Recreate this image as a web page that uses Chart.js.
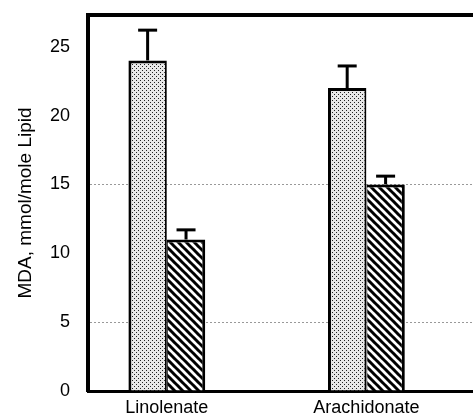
<!DOCTYPE html>
<html>
<head>
<meta charset="utf-8">
<script src="https://cdn.jsdelivr.net/npm/chart.js@4/dist/chart.umd.min.js"></script>
<style>
html,body{margin:0;padding:0;background:#fff;overflow:hidden;}
#wrap{width:546px;height:420px;position:relative;}
</style>
</head>
<body>
<div id="wrap"><canvas id="c"></canvas></div>
<script>
const categories = ['Linolenate', 'Arachidonate'];
const categoryX = [1, 2];
const series1 = [24.0, 22.0];
const series1Err = [2.2, 1.6];
const series2 = [11.0, 15.0];
const series2Err = [0.7, 0.6];
const yTicks = [0, 5, 10, 15, 20, 25];

function stipple() {
  const c = document.createElement('canvas');
  c.width = 4; c.height = 4;
  const g = c.getContext('2d');
  g.fillStyle = '#e8e8e8'; g.fillRect(0, 0, 4, 4);
  g.fillStyle = '#222';
  g.fillRect(0, 0, 1, 1);
  g.fillRect(2, 2, 1, 1);
  return g.createPattern(c, 'repeat');
}
function hatch() {
  const s = 8;
  const c = document.createElement('canvas');
  c.width = s; c.height = s;
  const g = c.getContext('2d');
  g.fillStyle = '#fff'; g.fillRect(0, 0, s, s);
  g.strokeStyle = '#000'; g.lineWidth = 3;
  for (let k = -1; k <= 1; k++) {
    g.beginPath();
    g.moveTo(k * s - 1, -1);
    g.lineTo(k * s + s + 1, s + 1);
    g.stroke();
  }
  return g.createPattern(c, 'repeat');
}

const errs = [series1Err, series2Err];
const errorBars = {
  id: 'errorBars',
  afterDatasetsDraw(chart) {
    const ctx = chart.ctx;
    const ys = chart.scales.y;
    ctx.save();
    ctx.strokeStyle = '#000';
    ctx.lineWidth = 3;
    chart.data.datasets.forEach((ds, di) => {
      const meta = chart.getDatasetMeta(di);
      meta.data.forEach((bar, i) => {
        const v = ds.data[i].y;
        const top = ys.getPixelForValue(v + errs[di][i]);
        const base = ys.getPixelForValue(v);
        ctx.beginPath();
        ctx.moveTo(bar.x, base);
        ctx.lineTo(bar.x, top);
        ctx.stroke();
        ctx.beginPath();
        ctx.moveTo(bar.x - 9.5, top);
        ctx.lineTo(bar.x + 9.5, top);
        ctx.stroke();
      });
    });
    ctx.restore();
  }
};
const topBorder = {
  id: 'topBorder',
  afterDraw(chart) {
    const a = chart.chartArea;
    const ctx = chart.ctx;
    ctx.save();
    ctx.strokeStyle = '#000';
    ctx.lineWidth = 4;
    ctx.beginPath();
    ctx.moveTo(a.left - 2, a.top);
    ctx.lineTo(a.right, a.top);
    ctx.stroke();
    ctx.restore();
  }
};

new Chart(document.getElementById('c'), {
  type: 'bar',
  data: {
    datasets: [
      {
        data: categoryX.map((x, i) => ({x, y: series1[i]})),
        backgroundColor: stipple(),
        borderColor: '#000',
        borderWidth: {top: 3, left: 3, right: 2, bottom: 0},
        borderSkipped: false
      },
      {
        data: categoryX.map((x, i) => ({x, y: series2[i]})),
        backgroundColor: hatch(),
        borderColor: '#000',
        borderWidth: {top: 3, left: 1, right: 3, bottom: 0},
        borderSkipped: false
      }
    ]
  },
  options: {
    responsive: true,
    maintainAspectRatio: false,
    devicePixelRatio: 1,
    animation: false,
    categoryPercentage: 0.385,
    barPercentage: 1,
    layout: {padding: {top: 15, left: 0, right: 0, bottom: 0}},
    plugins: {legend: {display: false}, tooltip: {enabled: false}},
    scales: {
      x: {
        type: 'linear',
        offset: false,
        min: 0.605,
        max: 2.9,
        afterBuildTicks(scale) { scale.ticks = categoryX.map(v => ({value: v})); },
        afterFit(scale) { scale.height = 29; scale.paddingLeft = 0; scale.paddingRight = 0; },
        grid: {display: false, drawTicks: false},
        border: {display: true, width: 3, color: '#000'},
        ticks: {
          padding: 6,
          color: '#000',
          maxRotation: 0,
          autoSkip: false,
          font: {family: 'Liberation Sans', size: 18},
          callback: (v) => categories[categoryX.indexOf(v)] || ''
        }
      },
      y: {
        min: 0,
        max: 27.3,
        afterBuildTicks(scale) { scale.ticks = yTicks.map(v => ({value: v})); },
        afterFit(scale) { scale.width = 88; scale.paddingTop = 0; scale.paddingBottom = 0; },
        grid: {
          drawTicks: false,
          color: (c) => (c.tick && (c.tick.value === 5 || c.tick.value === 15)) ? '#999' : 'rgba(0,0,0,0)',
          lineWidth: 1
        },
        border: {display: true, width: 4, color: '#000', dash: [2, 2]},
        ticks: {
          padding: 18,
          color: '#000',
          font: {family: 'Liberation Sans', size: 18}
        },
        title: {
          display: true,
          text: 'MDA, mmol/mole Lipid',
          color: '#000',
          font: {family: 'Liberation Sans', size: 19},
          padding: {top: 14, bottom: 0}
        }
      }
    }
  },
  plugins: [errorBars, topBorder]
});
</script>
</body>
</html>
